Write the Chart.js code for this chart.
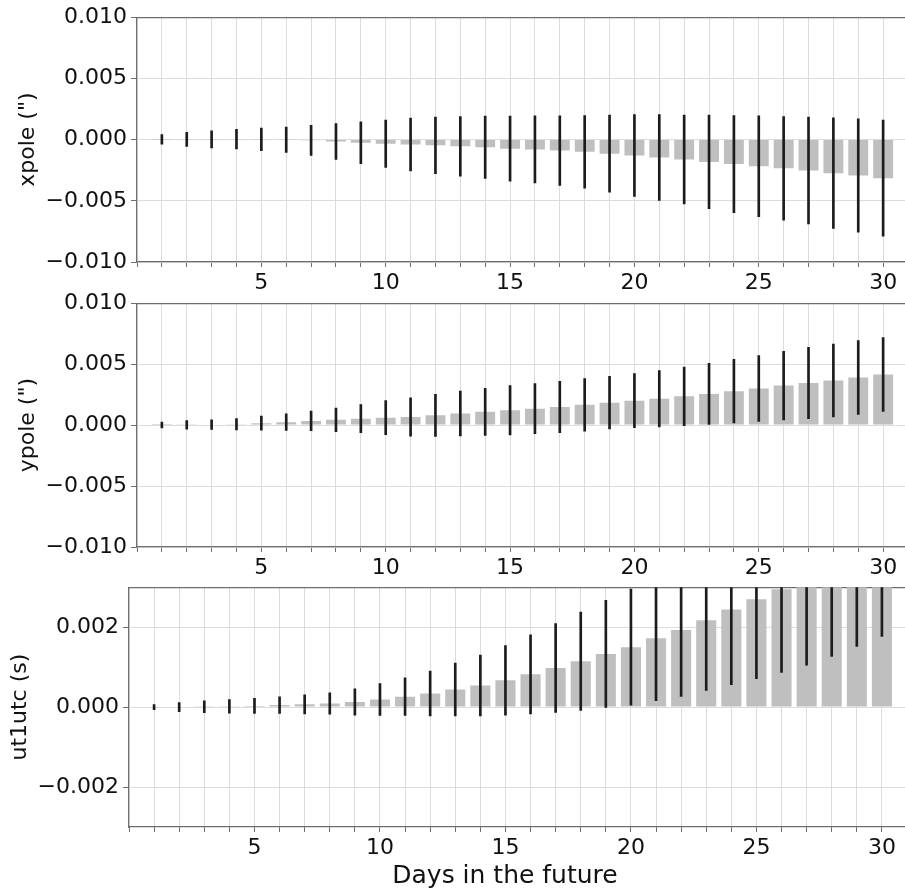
<!DOCTYPE html>
<html>
<head>
<meta charset="utf-8">
<script src="https://cdn.jsdelivr.net/npm/chart.js@4.4.1/dist/chart.umd.min.js"></script>
<style>
  html, body { margin: 0; padding: 0; background: #fff; overflow: hidden; }
  #wrap { position: relative; width: 905px; height: 890px; overflow: hidden; }
  #wrap canvas { position: absolute; left: 0; }
  #xlabel {
    position: absolute; left: 305px; width: 400px; top: 860px;
    text-align: center; font: 25px "DejaVu Sans", sans-serif; color: #111;
  }
</style>
</head>
<body>
<div id="wrap">
  <canvas id="c1" width="908" height="300" style="top:0px"></canvas>
  <canvas id="c2" width="908" height="300" style="top:286px"></canvas>
  <canvas id="c3" width="907" height="300" style="top:570px"></canvas>
  <div id="xlabel">Days in the future</div>
</div>
<script>
// days ahead
const days = [1, 2, 3, 4, 5, 6, 7, 8, 9, 10, 11, 12, 13, 14, 15,
  16, 17, 18, 19, 20, 21, 22, 23, 24, 25, 26, 27, 28, 29, 30];

// xpole (arcsec)
const xpoleVal = [0.00001, 0.00002, 0.00002, 0.00003, 0.00002, -0.00001, -0.00006, -0.00015, -0.00025, -0.00034,
  -0.0004, -0.00047, -0.00055, -0.00063, -0.00074, -0.0008, -0.0009, -0.001, -0.00115, -0.0013,
  -0.00146, -0.00163, -0.00182, -0.002, -0.00217, -0.00235, -0.00252, -0.00274, -0.00293, -0.00315];
const xpoleErr = [0.00039, 0.00058, 0.00069, 0.0008, 0.00092, 0.00104, 0.00123, 0.00146, 0.00171, 0.00193,
  0.00216, 0.00231, 0.00244, 0.00255, 0.00266, 0.00274, 0.00285, 0.00297, 0.00315, 0.00335,
  0.00351, 0.00363, 0.00382, 0.00396, 0.00412, 0.00424, 0.00436, 0.00452, 0.00463, 0.00474];

// ypole (arcsec)
const ypoleVal = [0.00001, 0.00002, 0.00004, 0.00007, 0.00016, 0.00024, 0.00034, 0.00043, 0.00053, 0.00061,
  0.00067, 0.0008, 0.00096, 0.00109, 0.00122, 0.00135, 0.00149, 0.00166, 0.00184, 0.002,
  0.00217, 0.00236, 0.00256, 0.00278, 0.00301, 0.00324, 0.00346, 0.00366, 0.0039, 0.00415];
const ypoleErr = [0.00024, 0.00036, 0.0004, 0.00047, 0.00057, 0.00068, 0.0008, 0.00097, 0.00115, 0.0014,
  0.00157, 0.00173, 0.00184, 0.00193, 0.00203, 0.00205, 0.00211, 0.00215, 0.00216, 0.00222,
  0.00231, 0.0024, 0.0025, 0.00261, 0.0027, 0.00282, 0.00293, 0.00299, 0.00303, 0.00303];

// ut1-utc (s)
const ut1Val = [0, 0, 0.00001, 0.00002, 0.00003, 0.00005, 0.00007, 0.00009, 0.00013, 0.00019,
  0.00026, 0.00034, 0.00044, 0.00054, 0.00067, 0.00082, 0.00098, 0.00115, 0.00133, 0.0015,
  0.00172, 0.00193, 0.00217, 0.00244, 0.0027, 0.00295, 0.00323, 0.00353, 0.00387, 0.00422];
const ut1Err = [0.000066, 0.000115, 0.00015, 0.00017, 0.00019, 0.00021, 0.00024, 0.00027, 0.00033, 0.0004,
  0.00047, 0.00056, 0.00066, 0.00076, 0.00087, 0.00099, 0.00111, 0.00123, 0.00134, 0.00145,
  0.00156, 0.00166, 0.00175, 0.00188, 0.00199, 0.00208, 0.00218, 0.00226, 0.00235, 0.00245];

// tick positions
const poleTicks = [-0.01, -0.005, 0, 0.005, 0.01];
const ut1Ticks = [-0.002, 0, 0.002];
const xTickLabels = [5, 10, 15, 20, 25, 30];

const FONT = "'DejaVu Sans', sans-serif";
const SPINE = "#6e6e6e";
const GRID = "#dcdcdc";

function fmtY(v) {
  if (Math.abs(v) < 1e-12) return "0.000";
  return v.toFixed(3).replace("-", "\u2212");
}

function makePanel(id, p) {
  const ctx = document.getElementById(id).getContext("2d");
  return new Chart(ctx, {
    type: "bar",
    data: {
      datasets: [
        {
          // error bars as thin floating bars
          data: days.map((d, i) => ({ x: d, y: [p.vals[i] - p.errs[i], p.vals[i] + p.errs[i]] })),
          backgroundColor: "#1c1c1c",
          barThickness: 2,
          grouped: false,
          borderWidth: 0,
          order: 0,
        },
        {
          data: days.map((d, i) => ({ x: d, y: p.vals[i] })),
          backgroundColor: "#bfbfbf",
          barPercentage: 0.8,
          categoryPercentage: 1.0,
          grouped: false,
          borderWidth: 0,
          order: 1,
        },
      ],
    },
    options: {
      responsive: false,
      animation: false,
      events: [],
      layout: { padding: { top: 14, left: 0, right: 0, bottom: 0 } },
      plugins: { legend: { display: false }, tooltip: { enabled: false } },
      scales: {
        x: {
          type: "linear",
          min: 0,
          max: 31,
          offset: false,
          grid: { offset: false, color: GRID, tickColor: SPINE, tickLength: 5 },
          border: { color: SPINE, width: 1.2 },
          afterBuildTicks: (s) => {
            s.ticks = days.concat([31]).map((v) => ({ value: v })).concat([{ value: 0 }]);
          },
          afterFit: (s) => { s.height = p.xh; },
          ticks: {
            autoSkip: false,
            maxRotation: 0,
            padding: 3,
            color: "#111",
            font: { family: FONT, size: 22 },
            callback: (v) => (xTickLabels.includes(v) ? String(v) : ""),
          },
        },
        top: {
          type: "linear",
          position: "top",
          min: 0,
          max: 31,
          grid: { display: false },
          ticks: { display: false },
          border: { color: SPINE, width: 1.2 },
          afterFit: (s) => { s.height = 0; },
        },
        y: {
          min: p.min,
          max: p.max,
          grid: { color: GRID, tickColor: SPINE, tickLength: 6 },
          border: { color: SPINE, width: 1.2 },
          afterBuildTicks: (s) => { s.ticks = p.ticks.map((v) => ({ value: v })); },
          afterFit: (s) => { s.width = p.yw; },
          ticks: {
            padding: 4,
            color: "#111",
            font: { family: FONT, size: 22 },
            callback: (v) => fmtY(v),
          },
          title: {
            display: true,
            text: p.label,
            color: "#111",
            font: { family: FONT, size: 22 },
            padding: { top: p.tpad, bottom: 0 },
          },
        },
      },
    },
  });
}

makePanel("c1", { vals: xpoleVal, errs: xpoleErr, min: -0.01, max: 0.01, ticks: poleTicks,
  label: 'xpole (")', yw: 137, xh: 38, tpad: 15 });
makePanel("c2", { vals: ypoleVal, errs: ypoleErr, min: -0.01, max: 0.01, ticks: poleTicks,
  label: 'ypole (")', yw: 137, xh: 39, tpad: 15 });
makePanel("c3", { vals: ut1Val, errs: ut1Err, min: -0.003, max: 0.003, ticks: ut1Ticks,
  label: "ut1utc (s)", yw: 129, xh: 43, tpad: 7 });
</script>
</body>
</html>
